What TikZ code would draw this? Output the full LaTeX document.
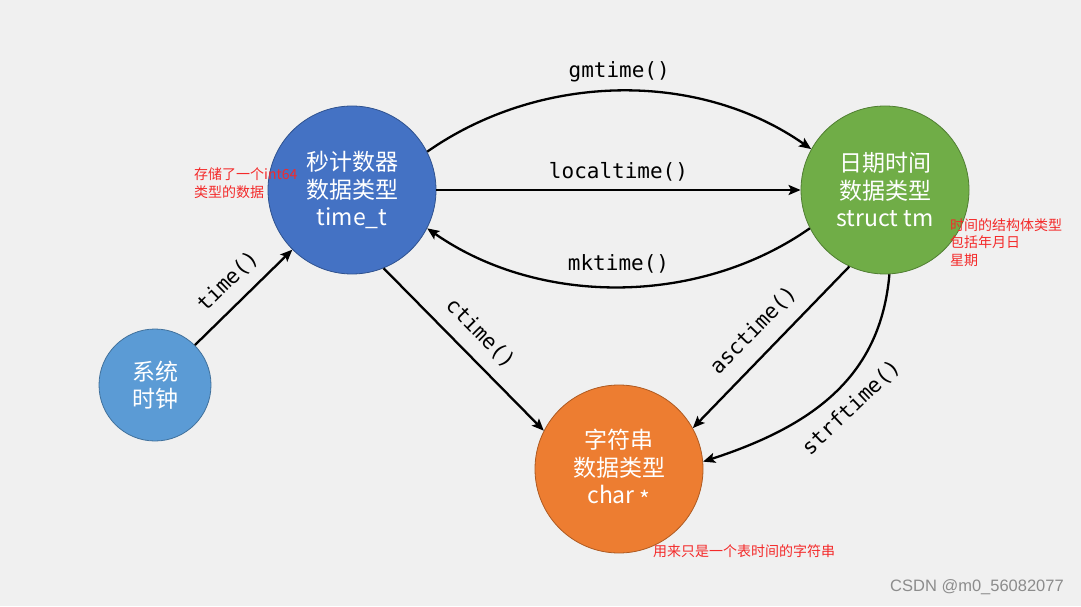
\documentclass[tikz,border=0pt]{standalone}
\usepackage{fontspec}
\usetikzlibrary{arrows.meta}
\newfontfamily\cjkf{Noto Sans CJK SC}
\newfontfamily\monof{DejaVu Sans Mono}
\newfontfamily\wmf{Liberation Sans}
\definecolor{bgc}{HTML}{F0F0F0}
\definecolor{cblue}{HTML}{4472C4}
\definecolor{cblueb}{HTML}{2F528F}
\definecolor{lblue}{HTML}{5B9BD5}
\definecolor{lblueb}{HTML}{41719C}
\definecolor{cgreen}{HTML}{70AD47}
\definecolor{cgreenb}{HTML}{507E32}
\definecolor{corange}{HTML}{ED7D31}
\definecolor{corangeb}{HTML}{AE5A21}
\definecolor{notered}{HTML}{F42A2A}
\definecolor{wmgray}{HTML}{8C8C8C}
\tikzset{
  state/.style={circle, inner sep=0pt, line width=0.8pt, text=white, align=center,
    font=\cjkf\fontsize{23}{27.5}\selectfont},
  arr/.style={line width=2.3pt, -{Stealth[length=12pt,width=10pt,inset=2.5pt]}},
  lab/.style={font=\monof\fontsize{21}{24}\selectfont, text=black},
  note/.style={font=\cjkf\fontsize{14}{18}\selectfont, text=notered, align=left, anchor=west, inner sep=0pt},
}
\begin{document}
\begin{tikzpicture}[x=1pt,y=1pt]
\fill[bgc] (0,0) rectangle (1081,606);
\useasboundingbox (0,0) rectangle (1081,606);

\node[state, fill=lblue, draw=lblueb, minimum size=112pt] (clock) at (155,221) {系统\\时钟};
\node[state, fill=cblue, draw=cblueb, minimum size=168pt] (sec) at (352,416) {秒计数器\\数据类型\\time\_t};
\node[state, fill=cgreen, draw=cgreenb, minimum size=168pt] (date) at (885,416) {日期时间\\数据类型\\struct tm};
\node[state, fill=corange, draw=corangeb, minimum size=168pt] (str) at (619,137) {字符串\\数据类型\\char \raisebox{-0.22em}{*}};

\draw[arr] (clock.45) -- node[lab, sloped, above, inner sep=12pt] (ltime) {time()} (sec.225);
\draw[arr] (sec.27) .. controls +(35:138) and +(145:138) .. node[lab, pos=0.5, above, inner sep=8pt] (lgm) {gmtime()} (date.151);
\draw[arr] (sec.east) -- node[lab, above, inner sep=8pt] (llocal) {localtime()} (date.west);
\draw[arr] (date.207) .. controls +(215:136) and +(325:136) .. node[lab, pos=0.5, above, inner sep=12pt] (lmk) {mktime()} (sec.333);
\draw[arr] (sec.292) -- node[lab, sloped, above, inner sep=13pt] (lc) {ctime()} (str.153);
\draw[arr] (date.245) -- node[lab, sloped, above, inner sep=14pt] (lasc) {asctime()} (str.29);
\draw[arr] (date.273) .. controls +(265:100) and +(18:120) .. node[lab, pos=0.5, sloped, below, inner sep=12pt] (lstrf) {strftime()} (str.5);

\node[note] (n1) at (194,422.5) {存储了一个int64\\类型的数据};
\node[note, font=\cjkf\fontsize{14}{17.5}\selectfont] (n2) at (950,363.5) {时间的结构体类型\\包括年月日\\星期};
\node[note] (n3) at (653,55) {用来只是一个表时间的字符串};

\node[font=\wmf\fontsize{16.5}{18}\selectfont, text=wmgray, anchor=west, inner sep=0pt] (wm) at (890,19) {CSDN @m0\_56082077};
\end{tikzpicture}
\end{document}
